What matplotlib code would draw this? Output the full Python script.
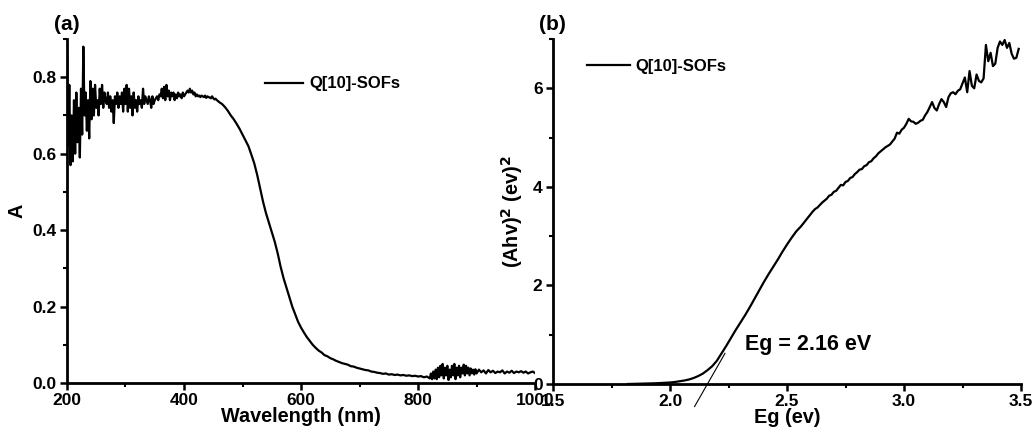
import numpy as np
import matplotlib.pyplot as plt
from matplotlib.ticker import MultipleLocator

plt.rcParams['font.family'] = ['Liberation Sans', 'DejaVu Sans']
plt.rcParams['font.weight'] = 'bold'

# ======================================================
# DATA
# ======================================================
# (a) absorbance spectrum
wl_noisy = list(range(200, 462, 2))
abs_noisy = [
    0.89, 0.62, 0.78, 0.57, 0.70, 0.58, 0.74, 0.60, 0.76, 0.63,
    0.72, 0.59, 0.77, 0.65, 0.88, 0.70, 0.76, 0.66, 0.74, 0.64,
    0.79, 0.69, 0.77, 0.70, 0.78, 0.72, 0.74, 0.70, 0.77, 0.73,
    0.78, 0.72, 0.76, 0.74, 0.73, 0.76, 0.72, 0.75, 0.71, 0.74,
    0.68, 0.75, 0.73, 0.76, 0.72, 0.75, 0.73, 0.76, 0.71, 0.77,
    0.73, 0.78, 0.71, 0.77, 0.72, 0.75, 0.70, 0.76, 0.72, 0.74,
    0.71, 0.75, 0.73, 0.74, 0.72, 0.77, 0.73, 0.75, 0.74, 0.73,
    0.75, 0.74, 0.72, 0.75, 0.73, 0.74, 0.745, 0.75, 0.74, 0.755,
    0.75, 0.77, 0.745, 0.775, 0.74, 0.78, 0.75, 0.765, 0.74, 0.76,
    0.75, 0.76, 0.74, 0.755, 0.745, 0.76, 0.75, 0.755, 0.745, 0.76,
    0.75, 0.755, 0.76, 0.765, 0.76, 0.77, 0.76, 0.765, 0.755, 0.76,
    0.75, 0.755, 0.75, 0.752, 0.748, 0.752, 0.75, 0.748, 0.752, 0.746,
    0.75, 0.748, 0.747, 0.745, 0.75, 0.745, 0.742, 0.744, 0.74, 0.738,
    0.735,
]
wl_edge = list(range(465, 825, 5))
abs_edge = [
    0.73, 0.722, 0.712, 0.70, 0.69, 0.678, 0.665, 0.65, 0.635, 0.62,
    0.598, 0.575, 0.545, 0.51, 0.475, 0.445, 0.42, 0.395, 0.37, 0.34,
    0.305, 0.275, 0.25, 0.225, 0.20, 0.18, 0.16, 0.145, 0.132, 0.12,
    0.11, 0.10, 0.092, 0.085, 0.08, 0.073, 0.07, 0.065, 0.062, 0.058,
    0.055, 0.052, 0.05, 0.048, 0.044, 0.043, 0.04, 0.038, 0.036, 0.034,
    0.033, 0.03, 0.029, 0.027, 0.026, 0.024, 0.025, 0.022, 0.023, 0.021,
    0.022, 0.02, 0.021, 0.019, 0.02, 0.018, 0.019, 0.017, 0.018, 0.015,
    0.017, 0.012,
]
wl_tail1 = list(range(822, 902, 2))
abs_tail1 = [
    0.025, 0.01, 0.03, 0.012, 0.035, 0.01, 0.04, 0.015, 0.045, 0.02,
    0.05, 0.012, 0.04, 0.02, 0.045, 0.008, 0.035, 0.015, 0.045, 0.02,
    0.05, 0.01, 0.04, 0.02, 0.045, 0.015, 0.04, 0.025, 0.048, 0.02,
    0.045, 0.025, 0.04, 0.02, 0.038, 0.025, 0.035, 0.022, 0.036, 0.025,
]
wl_tail2 = list(range(904, 1004, 4))
abs_tail2 = [
    0.035, 0.028, 0.033, 0.025, 0.034, 0.028, 0.032, 0.026, 0.03, 0.028,
    0.033, 0.025, 0.03, 0.027, 0.032, 0.026, 0.03, 0.028, 0.031, 0.027,
    0.03, 0.025, 0.028, 0.03, 0.026,
]

# (b) Tauc plot
eg_low = [1.82, 1.86, 1.90, 1.94, 1.98, 2.00, 2.02, 2.04, 2.06, 2.08,
          2.10, 2.12, 2.14, 2.16, 2.18, 2.20, 2.22, 2.24, 2.26, 2.28,
          2.30, 2.32, 2.34, 2.36, 2.38, 2.40, 2.42, 2.44, 2.46, 2.48,
          2.50, 2.52, 2.54, 2.56, 2.58]
tauc_low = [0.0, 0.005, 0.01, 0.015, 0.025, 0.03, 0.04, 0.055, 0.07, 0.09,
            0.12, 0.16, 0.21, 0.28, 0.36, 0.47, 0.62, 0.77, 0.93, 1.09,
            1.24, 1.39, 1.55, 1.72, 1.89, 2.06, 2.22, 2.37, 2.52, 2.68,
            2.83, 2.97, 3.10, 3.20, 3.32]
eg_high = [round(2.60 + 0.01 * i, 2) for i in range(90)]
tauc_high = [
    3.44, 3.50, 3.55, 3.58, 3.63, 3.68, 3.72, 3.76, 3.82, 3.84,
    3.90, 3.92, 3.98, 4.04, 4.03, 4.10, 4.12, 4.18, 4.20, 4.26,
    4.30, 4.35, 4.36, 4.42, 4.44, 4.50, 4.52, 4.58, 4.62, 4.68,
    4.72, 4.76, 4.80, 4.83, 4.86, 4.92, 4.98, 5.10, 5.08, 5.16,
    5.20, 5.28, 5.38, 5.33, 5.32, 5.28, 5.30, 5.34, 5.36, 5.45,
    5.52, 5.62, 5.72, 5.60, 5.55, 5.68, 5.78, 5.72, 5.62, 5.82,
    5.90, 5.92, 5.88, 5.95, 5.98, 6.10, 6.22, 5.92, 6.35, 6.05,
    6.00, 6.28, 6.15, 6.12, 6.20, 6.88, 6.55, 6.72, 6.45, 6.50,
    6.82, 6.95, 6.88, 6.98, 6.82, 6.92, 6.70, 6.60, 6.62, 6.80,
]

eg_value = 2.16
tangent_slope = 8.3
tangent_x = [2.105, 2.235]

# ======================================================
# PLOT
# ======================================================
fig = plt.figure(figsize=(10.35, 4.32), dpi=100)
ax1 = fig.add_axes([0.0647, 0.1134, 0.4523, 0.7963])
ax2 = fig.add_axes([0.5343, 0.1111, 0.4522, 0.7986])

def style_axis(ax):
    for side in ['top', 'right']:
        ax.spines[side].set_visible(False)
    for side in ['left', 'bottom']:
        ax.spines[side].set_linewidth(2)
    ax.tick_params(which='major', direction='out', length=5, width=1.8,
                   labelsize=12.5, pad=2.5)
    ax.tick_params(which='minor', direction='out', length=3, width=1.5)
    for lab in ax.get_xticklabels() + ax.get_yticklabels():
        lab.set_fontweight('bold')

wl = wl_noisy + wl_edge + wl_tail1 + wl_tail2
ab = abs_noisy + abs_edge + abs_tail1 + abs_tail2
ax1.plot(wl, ab, color='black', lw=1.6, label='Q[10]-SOFs')
ax1.set_xlim(200, 1000)
ax1.set_ylim(0, 0.9)
ax1.xaxis.set_major_locator(MultipleLocator(200))
ax1.xaxis.set_minor_locator(MultipleLocator(100))
ax1.yaxis.set_minor_locator(MultipleLocator(0.1))
ax1.set_yticks([0.0, 0.2, 0.4, 0.6, 0.8])
ax1.set_yticklabels(['0.0', '0.2', '0.4', '0.6', '0.8'])
ax1.set_xlabel('Wavelength (nm)', fontsize=14.3, fontweight='bold', labelpad=-1)
ax1.set_ylabel('A', fontsize=14.3, fontweight='bold', labelpad=4)
style_axis(ax1)
ax1.legend(loc='upper left', bbox_to_anchor=(0.39, 0.935), frameon=False,
           handlelength=2.3, handletextpad=0.4, prop={'weight': 'bold', 'size': 12})
ax1.text(-0.027, 1.015, '(a)', transform=ax1.transAxes, fontsize=15,
         fontweight='bold', ha='left', va='bottom')

eg = eg_low + eg_high
tauc = tauc_low + tauc_high
ax2.plot(eg, tauc, color='black', lw=1.6, label='Q[10]-SOFs')
tx = np.array(tangent_x)
ax2.plot(tx, tangent_slope * (tx - eg_value), color='black', lw=0.8,
         clip_on=False)
ax2.set_xlim(1.5, 3.5)
ax2.set_ylim(0, 7)
ax2.xaxis.set_minor_locator(MultipleLocator(0.25))
ax2.yaxis.set_major_locator(MultipleLocator(2))
ax2.yaxis.set_minor_locator(MultipleLocator(1))
ax2.set_xticks([1.5, 2.0, 2.5, 3.0, 3.5])
ax2.set_xticklabels(['1.5', '2.0', '2.5', '3.0', '3.5'])
ax2.set_xlabel('Eg (ev)', fontsize=14.3, fontweight='bold', labelpad=-1)
ax2.set_ylabel(r'(Ahv)$^\mathbf{2}$ (ev)$^\mathbf{2}$', fontsize=14.3,
               fontweight='bold', labelpad=6)
style_axis(ax2)
ax2.legend(loc='upper left', bbox_to_anchor=(0.04, 0.985), frameon=False,
           handlelength=2.6, handletextpad=0.3, prop={'weight': 'bold', 'size': 12})
ax2.text(-0.03, 1.015, '(b)', transform=ax2.transAxes, fontsize=15,
         fontweight='bold', ha='left', va='bottom')
ax2.text(2.32, 0.69, 'Eg = 2.16 eV', fontsize=15.5, fontweight='bold',
         ha='left', va='baseline')

fig.savefig('out.png', dpi=100)
